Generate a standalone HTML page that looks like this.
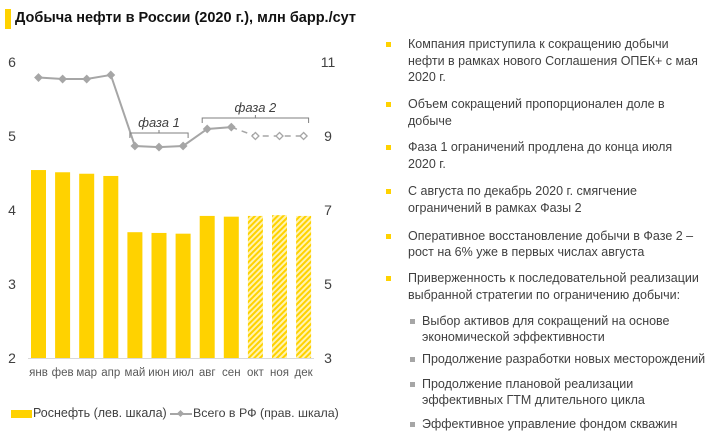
<!DOCTYPE html>
<html><head><meta charset="utf-8"><style>
body{margin:0;width:718px;height:438px;background:#fff;overflow:hidden;font-family:"Liberation Sans","Noto Sans CJK SC",sans-serif;position:relative}
.t{position:absolute;white-space:nowrap;color:#404040;font-size:12.5px}
.b{position:absolute;width:5px;height:5px;background:#FFD200}
.s{position:absolute;width:5px;height:5px;background:#a6a6a6}
</style></head><body>
<div style="position:absolute;left:5px;top:9px;width:6px;height:20px;background:#FFD200"></div>
<div class="t" style="left:15px;top:10px;font-size:14.5px;font-weight:bold;color:#111">Добыча нефти в России (2020 г.), млн барр./сут</div>
<svg id="chart" width="360" height="438" style="position:absolute;left:0;top:0">
<defs><pattern id="hatch" width="4" height="4" patternUnits="userSpaceOnUse" patternTransform="rotate(45)"><rect width="4" height="4" fill="#fff3b0"/><rect width="2" height="4" fill="#FFD200"/></pattern></defs>
<g id="g"></g>
</svg>
<script>
const months=["янв","фев","мар","апр","май","июн","июл","авг","сен","окт","ноя","дек"];
const rosneft=[4.54,4.51,4.49,4.46,3.70,3.69,3.68,3.92,3.91,3.92,3.93,3.92];
const russia=[10.58,10.54,10.54,10.65,8.73,8.70,8.73,9.19,9.24,9.0,9.0,9.0];
const forecastFrom=9;
const leftTicks=[2,3,4,5,6];
const rightTicks=[3,5,7,9,11];
const yL=v=>358-(v-2)*74;
const yR=v=>358-(v-3)*37;
const xC=i=>38.5+i*24.1;
const g=document.getElementById('g');
const NS='http://www.w3.org/2000/svg';
function mk(t,a,txt){const e=document.createElementNS(NS,t);for(const k in a)e.setAttribute(k,a[k]);if(txt!=null)e.textContent=txt;g.appendChild(e);return e;}
leftTicks.forEach(v=>{const e=mk('text',{x:12,y:yL(v)+5,'font-size':14,fill:'#404040','text-anchor':'middle'},v);

});
rightTicks.forEach(v=>{const e=mk('text',{x:328,y:yR(v)+5,'font-size':14,fill:'#404040','text-anchor':'middle'},v);

});
rosneft.forEach((v,i)=>{const e=mk('rect',{x:xC(i)-7.5,y:yL(v),width:15,height:358-yL(v),fill:i>=forecastFrom?'url(#hatch)':'#FFD200'});

});
const ax=mk('line',{x1:28,x2:314,y1:358.5,y2:358.5,stroke:'#d9d9d9'});


months.forEach((m,i)=>{const e=mk('text',{x:xC(i),y:376,'font-size':11.5,fill:'#595959','text-anchor':'middle'},m);

});
let p='';for(let i=0;i<=forecastFrom-1;i++)p+=(i?'L':'M')+xC(i)+' '+yR(russia[i]);
const l1=mk('path',{d:p,fill:'none',stroke:'#a6a6a6','stroke-width':2});


let p2='';for(let i=forecastFrom-1;i<12;i++)p2+=(i>forecastFrom-1?'L':'M')+xC(i)+' '+yR(russia[i]);
const l2=mk('path',{d:p2,fill:'none',stroke:'#a6a6a6','stroke-width':1.5,'stroke-dasharray':'6 5'});


russia.forEach((v,i)=>{const x=xC(i),y=yR(v),f=i>=forecastFrom;
const e=mk('path',{d:`M${x} ${y-3.5}L${x+3.5} ${y}L${x} ${y+3.5}L${x-3.5} ${y}Z`,fill:f?'#fff':'#a6a6a6',stroke:'#a6a6a6','stroke-width':1.3});

});
function brace(a,b,y,label,name){const x1=xC(a)-5,x2=xC(b)+5;
const e=mk('path',{d:`M${x1} ${y+5}V${y}H${x2}V${y+5}M${(x1+x2)/2} ${y}V${y-3}`,fill:'none',stroke:'#7f7f7f','stroke-width':1});


const t=mk('text',{x:(x1+x2)/2,y:y-6,'font-size':13,'font-style':'italic',fill:'#404040','text-anchor':'middle'},label);

}
brace(4,6,133,'фаза 1','phase-1');
brace(7,11,118,'фаза 2','phase-2');
</script>
<div>
<div style="position:absolute;left:11px;top:410px;width:21px;height:8px;background:#FFD200"></div>
<div class="t" style="left:33px;top:406px;font-size:12.5px">Роснефть (лев. шкала)</div></div>
<div>
<div style="position:absolute;left:170px;top:413px;width:22px;height:1.5px;background:#a6a6a6"></div>
<div style="position:absolute;left:178px;top:411px;width:5px;height:5px;background:#a6a6a6;transform:rotate(45deg)"></div>
<div class="t" style="left:193px;top:406px;font-size:12.4px">Всего в РФ (прав. шкала)</div></div>

<div>
<div class="b" style="left:386px;top:42px"></div>
<div class="t" style="left:408px;top:37px">Компания приступила к сокращению добычи</div>
<div class="t" style="left:408px;top:54px">нефти в рамках нового Соглашения ОПЕК+ с мая</div>
<div class="t" style="left:408px;top:70px">2020 г.</div>
<div class="b" style="left:386px;top:102px"></div>
<div class="t" style="left:408px;top:97px">Объем сокращений пропорционален доле в</div>
<div class="t" style="left:408px;top:114px">добыче</div>
<div class="b" style="left:386px;top:145px"></div>
<div class="t" style="left:408px;top:140px">Фаза 1 ограничений продлена до конца июля</div>
<div class="t" style="left:408px;top:157px">2020 г.</div>
<div class="b" style="left:386px;top:189px"></div>
<div class="t" style="left:408px;top:184px">С августа по декабрь 2020 г. смягчение</div>
<div class="t" style="left:408px;top:201px">ограничений в рамках Фазы 2</div>
<div class="b" style="left:386px;top:234px"></div>
<div class="t" style="left:408px;top:229px">Оперативное восстановление добычи в Фазе 2 –</div>
<div class="t" style="left:408px;top:245px">рост на 6% уже в первых числах августа</div>
<div class="b" style="left:386px;top:276px"></div>
<div class="t" style="left:408px;top:271px">Приверженность к последовательной реализации</div>
<div class="t" style="left:408px;top:288px">выбранной стратегии по ограничению добычи:</div>
<div class="s" style="left:410px;top:319px"></div>
<div class="t" style="left:422px;top:314px">Выбор активов для сокращений на основе</div>
<div class="t" style="left:422px;top:330px">экономической эффективности</div>
<div class="s" style="left:410px;top:357px"></div>
<div class="t" style="left:422px;top:352px">Продолжение разработки новых месторождений</div>
<div class="s" style="left:410px;top:382px"></div>
<div class="t" style="left:422px;top:377px">Продолжение плановой реализации</div>
<div class="t" style="left:422px;top:393px">эффективных ГТМ длительного цикла</div>
<div class="s" style="left:410px;top:422px"></div>
<div class="t" style="left:422px;top:417px">Эффективное управление фондом скважин</div>
</div>
</body></html>
